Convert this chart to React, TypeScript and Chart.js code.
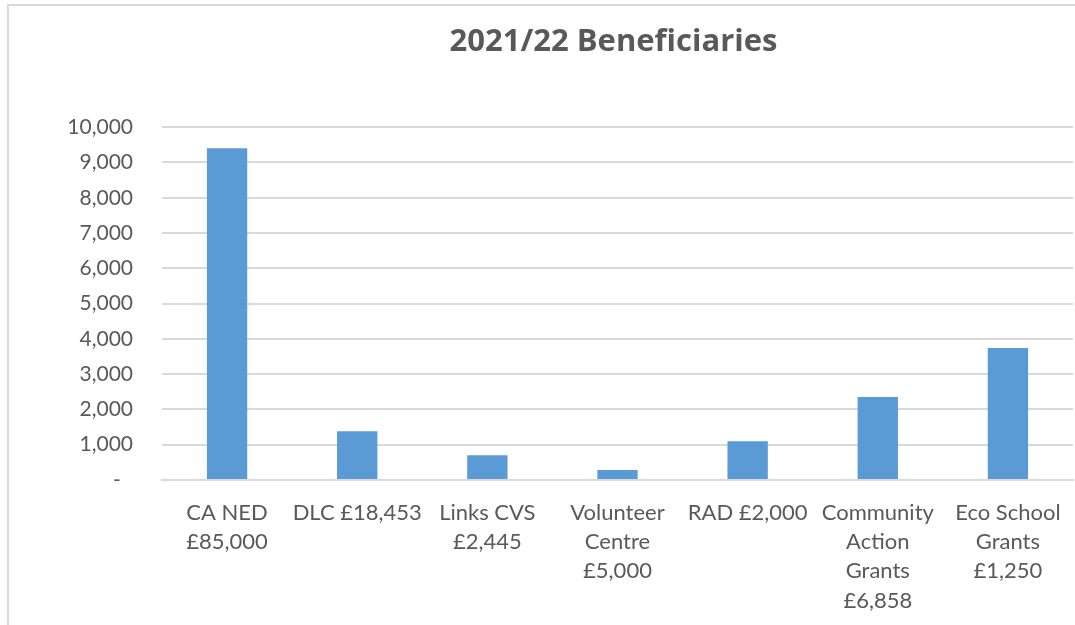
import React, { useEffect, useRef } from "react";
import { Chart, registerables } from "chart.js";

Chart.register(...registerables);

const chartTitle = "2021/22 Beneficiaries";
const categories: string[][] = [
  ["CA NED", "£85,000"],
  ["DLC £18,453"],
  ["Links CVS", "£2,445"],
  ["Volunteer", "Centre", "£5,000"],
  ["RAD £2,000"],
  ["Community", "Action", "Grants", "£6,858"],
  ["Eco School", "Grants", "£1,250"],
];
const beneficiaries: number[] = [9400, 1380, 700, 280, 1100, 2350, 3740];
const yMin = 0;
const yMax = 10000;
const yStep = 1000;

const TEXT = "#595959";
const GRID = "#d9d9d9";
const BAR = "#5B9BD5";
const FONT = "Lato, 'Open Sans', sans-serif";
const TITLE_FONT = "'Open Sans', Lato, sans-serif";

export default function App() {
  const ref = useRef<HTMLCanvasElement | null>(null);

  useEffect(() => {
    if (!ref.current) return;
    const chart = new Chart(ref.current, {
      type: "bar",
      data: {
        labels: categories,
        datasets: [
          {
            label: chartTitle,
            data: beneficiaries,
            backgroundColor: BAR,
            borderWidth: 0,
            barPercentage: 0.31,
            categoryPercentage: 1,
            yAxisID: "y",
          },
        ],
      },
      options: {
        responsive: false,
        animation: false,
        layout: { padding: 0 },
        plugins: {
          legend: { display: false },
          tooltip: { enabled: false },
          title: {
            display: true,
            text: chartTitle,
            color: TEXT,
            font: { family: TITLE_FONT, size: 31, weight: "bold", lineHeight: 1.2 },
            padding: { top: 18, bottom: 66 },
          },
        },
        scales: {
          x: {
            grid: { display: false },
            border: { display: true, color: GRID, width: 2 },
            ticks: {
              color: TEXT,
              font: { family: FONT, size: 22, lineHeight: 1.33 },
              padding: 10,
              maxRotation: 0,
              autoSkip: false,
            },
            afterFit: (s: any) => {
              s.height = 146;
            },
          },
          y: {
            min: yMin,
            max: yMax,
            grid: { color: GRID, lineWidth: 2, drawTicks: false },
            border: { display: false },
            ticks: {
              stepSize: yStep,
              color: TEXT,
              padding: 29,
              font: { family: FONT, size: 21 },
              callback: (v: any) =>
                Number(v) === 0 ? "-\u2007" : Number(v).toLocaleString("en-US"),
            },
            afterFit: (s: any) => {
              s.width = 153;
            },
          },
          y1: {
            position: "right",
            display: true,
            grid: { display: false, drawTicks: false },
            border: { display: false },
            ticks: { display: false },
            afterFit: (s: any) => {
              s.width = 145;
            },
          },
        },
      },
    });
    return () => chart.destroy();
  }, []);

  return (
    <div
      style={{
        position: "absolute",
        left: 0,
        top: 0,
        width: 1075,
        height: 625,
        overflow: "hidden",
        background: "#ffffff",
      }}
    >
      <div
        style={{
          position: "absolute",
          left: 7,
          top: 4,
          width: 1300,
          height: 700,
          border: "2px solid #d9d9d9",
          boxSizing: "border-box",
        }}
      >
        <canvas
          ref={ref}
          width={1209}
          height={620}
          style={{ position: "absolute", left: 0, top: 0, width: 1209, height: 620 }}
        />
      </div>
    </div>
  );
}
